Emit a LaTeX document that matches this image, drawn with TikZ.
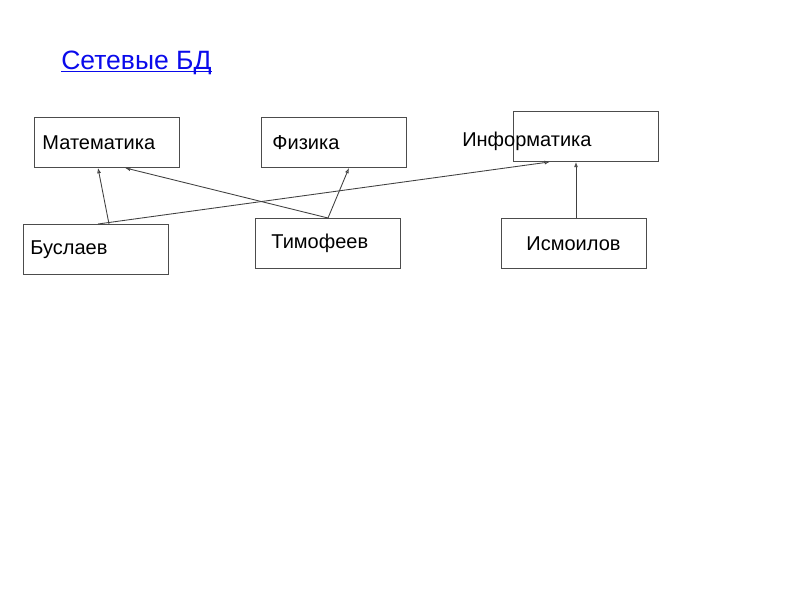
\documentclass[tikz,border=0pt]{standalone}
\usepackage{fontspec}
\setmainfont{Liberation Sans}
\usetikzlibrary{arrows.meta,calc}
\definecolor{linkblue}{RGB}{10,10,235}

\begin{document}
\begin{tikzpicture}[
    x=0.75pt, y=-0.75pt,
    >={Latex[open,length=4pt,width=3pt]},
    font=\fontsize{15}{18}\selectfont,
    arr/.style={->, line width=0.65pt, draw=black!75},
    box/.style={draw=black!70, line width=0.65pt, anchor=north west, align=left,
                inner xsep=0pt, text width=#1,
                minimum width=108.75pt, minimum height=37.5pt},
    head/.style={anchor=base west, inner sep=0pt, text=linkblue,
                 font=\fontsize{19.9}{24}\selectfont}
]
\useasboundingbox (0,0) rectangle (800,600);

% ===== TITLE =====
\node[head] (title) at (61,69) {\underline{\smash{Сетевые БД}}};

% ===== SUBJECTS (top row) =====
\node[box=96.75pt] (mat) at (34,117) {Математика};
\node[box=92.25pt] (fiz) at (261,117) {Физика};
\node[box=0pt]     (inf) at (513,111) {};
\node[anchor=west, inner sep=0pt] (inftext) at (462,141) {Информатика};

% ===== STUDENTS (bottom row) =====
\node[box=98.25pt] (busl) at (23,224)  {Буслаев};
\node[box=84.75pt] (tim)  at (255,218) {Тимофеев};
\node[box=71.25pt] (ism)  at (501,218) {Исмоилов};

% links
\draw[arr] ($(busl.north west)+(86,0)$) -- ($(mat.south west)+(64,0)$);
\draw[arr] ($(busl.north west)+(75,0)$) -- ($(inf.south west)+(37,0)$);
\draw[arr] ($(tim.north west)+(73,0)$)  -- ($(mat.south west)+(91,0)$);
\draw[arr] ($(tim.north west)+(73,0)$)  -- ($(fiz.south west)+(88,0)$);
\draw[arr] ($(ism.north west)+(75,0)$)  -- ($(inf.south west)+(63,0)$);

\end{tikzpicture}
\end{document}
